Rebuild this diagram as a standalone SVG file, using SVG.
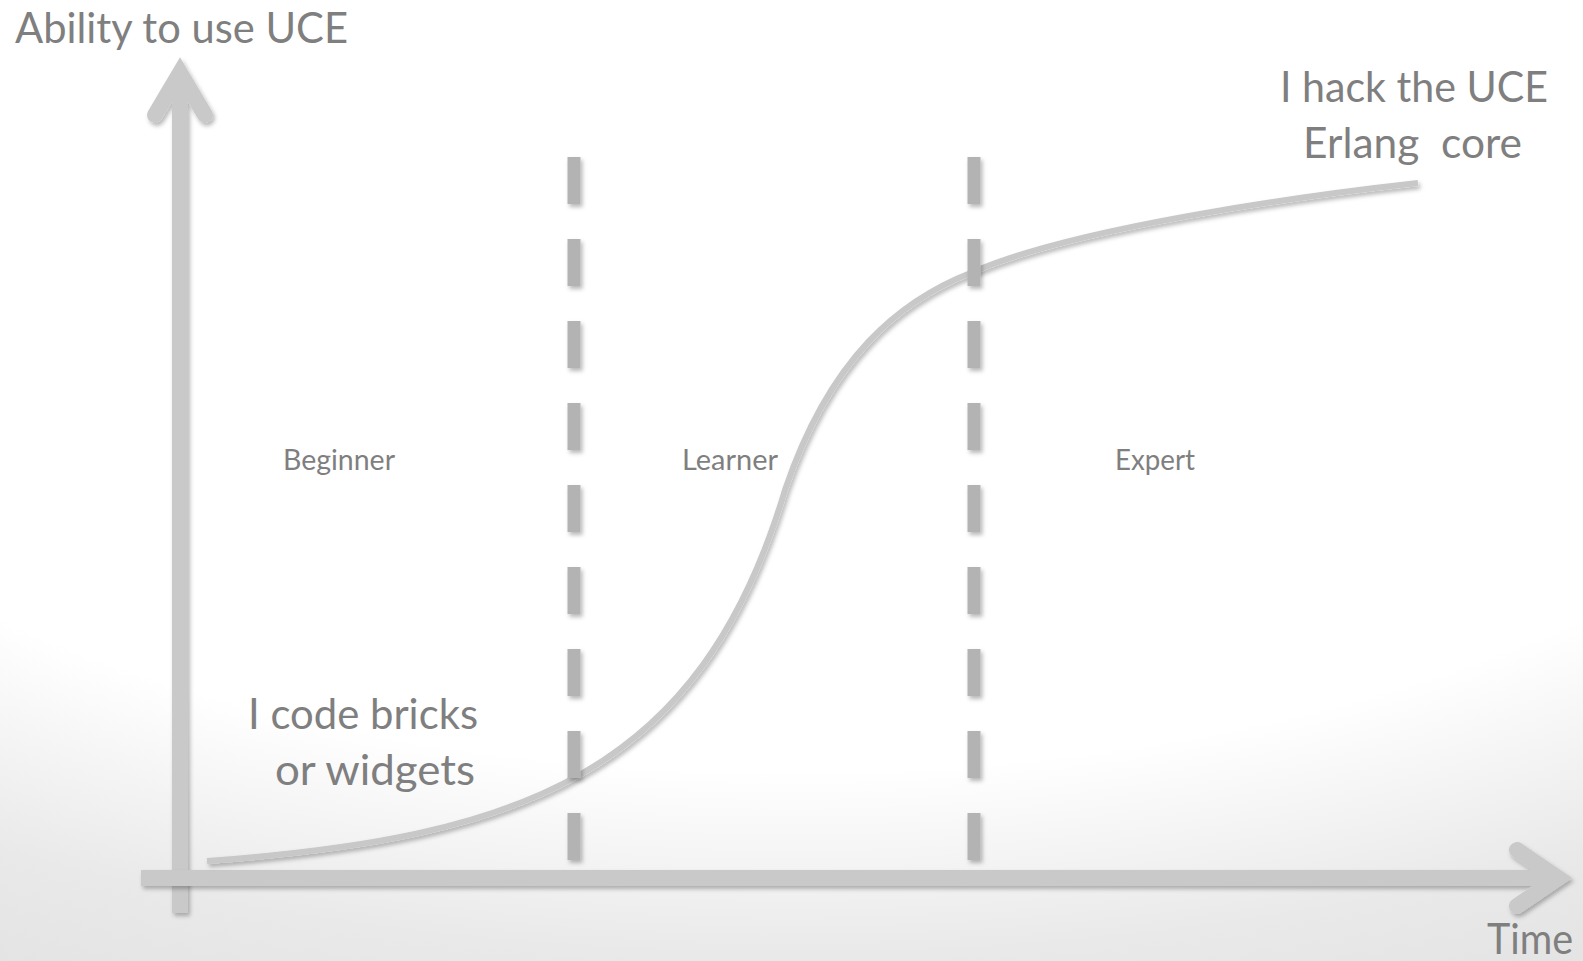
<svg xmlns="http://www.w3.org/2000/svg" width="1583" height="961" viewBox="0 0 1583 961">
  <defs>
    <radialGradient id="bg" gradientUnits="userSpaceOnUse" cx="0" cy="0" r="1.2" gradientTransform="translate(790,250) scale(1500,700)">
      <stop offset="0" stop-color="#ffffff"/>
      <stop offset="0.62" stop-color="#ffffff"/>
      <stop offset="0.84" stop-color="#e9e9e9"/>
      <stop offset="1" stop-color="#e2e2e2"/>
    </radialGradient>
    <filter id="shadow" filterUnits="userSpaceOnUse" x="0" y="0" width="1583" height="961">
      <feDropShadow dx="2" dy="3" stdDeviation="2" flood-color="#000000" flood-opacity="0.28"/>
    </filter>
    <style>
      .axis { stroke: #c9c9c9; fill: none; }
      .curve { stroke: #c8c8c8; stroke-width: 6; fill: none; }
      .dash { stroke: #b3b3b3; stroke-width: 13; stroke-dasharray: 47 35; fill: none; }
      .big { font-family: Lato, "Liberation Sans", sans-serif; font-size: 42px; fill: #7f7f7f; }
      .small { font-family: Lato, "Liberation Sans", sans-serif; font-size: 28px; fill: #7f7f7f; }
    </style>
  </defs>
  <rect x="0" y="0" width="1583" height="961" fill="url(#bg)"/>

  <g id="connectors">
    <g id="y-axis" filter="url(#shadow)">
      <rect x="172" y="78" width="16" height="835" fill="#c9c9c9"/>
      <polyline class="axis" points="155,115 180,73 205,115" stroke-width="16" stroke-linecap="round" stroke-linejoin="miter"/>
    </g>
    <g id="x-axis" filter="url(#shadow)">
      <rect x="141" y="870" width="1412" height="16" fill="#c9c9c9"/>
      <polyline class="axis" points="1517,850 1558,878 1517,906" stroke-width="16" stroke-linecap="round" stroke-linejoin="miter"/>
    </g>
    <path id="curve" class="curve" filter="url(#shadow)" d="M207,861 C520,838 700,775 785,490 C830,357 900,300 973,272 C1073,228 1300,196 1418,183"/>
    <line id="divider-1" class="dash" x1="574" y1="157" x2="574" y2="860" filter="url(#shadow)"/>
    <line id="divider-2" class="dash" x1="974" y1="157" x2="974" y2="860" filter="url(#shadow)"/>
  </g>

  <g id="label-y-axis"><text class="big" x="15" y="43" textLength="333" lengthAdjust="spacingAndGlyphs">Ability to use UCE</text></g>
  <g id="label-x-axis"><text class="big" x="1487" y="954" textLength="86" lengthAdjust="spacingAndGlyphs">Time</text></g>
  <g id="label-top">
    <text class="big" x="1280" y="102" textLength="268" lengthAdjust="spacingAndGlyphs">I hack the UCE</text>
    <text class="big" x="1303" y="158" textLength="219" lengthAdjust="spacingAndGlyphs" xml:space="preserve">Erlang  core</text>
  </g>
  <g id="label-bottom">
    <text class="big" x="248" y="729" textLength="230" lengthAdjust="spacingAndGlyphs">I code bricks</text>
    <text class="big" x="275" y="785" textLength="200" lengthAdjust="spacingAndGlyphs">or widgets</text>
  </g>
  <g id="zone-beginner"><text class="small" x="283" y="470" textLength="112" lengthAdjust="spacingAndGlyphs">Beginner</text></g>
  <g id="zone-learner"><text class="small" x="682" y="470" textLength="96" lengthAdjust="spacingAndGlyphs">Learner</text></g>
  <g id="zone-expert"><text class="small" x="1115" y="470" textLength="80" lengthAdjust="spacingAndGlyphs">Expert</text></g>
</svg>
